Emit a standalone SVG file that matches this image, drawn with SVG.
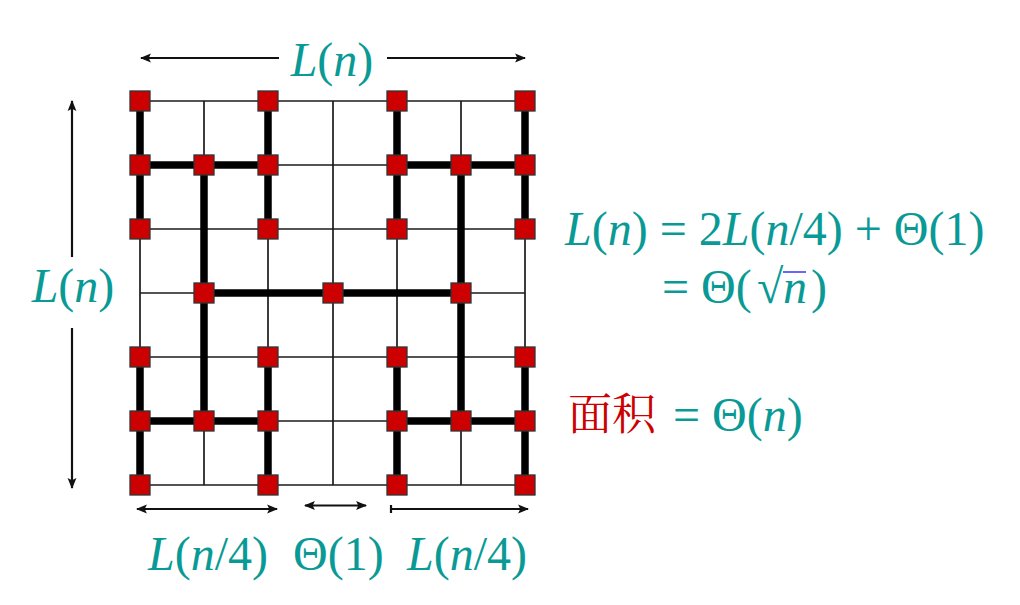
<svg xmlns="http://www.w3.org/2000/svg" width="1020" height="605" viewBox="0 0 1020 605">
<style>
.grid line{stroke:#1a1a1a;stroke-width:1.7}
.thick line{stroke:#000;stroke-width:7.5;stroke-linecap:butt}
.nd rect{fill:#cc0000;stroke:#333;stroke-width:1.3}
.t{font-family:'Liberation Serif',serif;font-size:48px;fill:#0a9a96}
.i{font-style:italic}
.cjk{font-family:'Liberation Serif','Noto Serif CJK SC','Noto Sans CJK SC',serif;font-size:44px;fill:#cc0000}
.arr{stroke:#111;stroke-width:2.2;fill:none}
</style>
<defs>
<marker id="ah" viewBox="0 0 10 10" refX="9" refY="5" markerWidth="5" markerHeight="5" orient="auto-start-reverse" markerUnits="strokeWidth">
<path d="M0,1 L10,5 L0,9 L2,5 Z" fill="#111"/>
</marker>
</defs>
<rect width="1020" height="605" fill="#fff"/>
<g class="grid">
<line x1="140" y1="101" x2="525" y2="101"/>
<line x1="140" y1="165" x2="525" y2="165"/>
<line x1="140" y1="229" x2="525" y2="229"/>
<line x1="140" y1="293" x2="525" y2="293"/>
<line x1="140" y1="357" x2="525" y2="357"/>
<line x1="140" y1="421" x2="525" y2="421"/>
<line x1="140" y1="485" x2="525" y2="485"/>
<line x1="140" y1="101" x2="140" y2="485"/>
<line x1="204" y1="101" x2="204" y2="485"/>
<line x1="268" y1="101" x2="268" y2="485"/>
<line x1="333" y1="101" x2="333" y2="485"/>
<line x1="397" y1="101" x2="397" y2="485"/>
<line x1="461" y1="101" x2="461" y2="485"/>
<line x1="525" y1="101" x2="525" y2="485"/>
</g>
<g id="connectors" class="thick">
<line x1="140" y1="101" x2="140" y2="229"/>
<line x1="268" y1="101" x2="268" y2="229"/>
<line x1="140" y1="165" x2="268" y2="165"/>
<line x1="204" y1="165" x2="204" y2="421"/>
<line x1="140" y1="357" x2="140" y2="485"/>
<line x1="268" y1="357" x2="268" y2="485"/>
<line x1="140" y1="421" x2="268" y2="421"/>
<line x1="397" y1="101" x2="397" y2="229"/>
<line x1="525" y1="101" x2="525" y2="229"/>
<line x1="397" y1="165" x2="525" y2="165"/>
<line x1="461" y1="165" x2="461" y2="421"/>
<line x1="397" y1="357" x2="397" y2="485"/>
<line x1="525" y1="357" x2="525" y2="485"/>
<line x1="397" y1="421" x2="525" y2="421"/>
<line x1="204" y1="293" x2="461" y2="293"/>
</g>
<g class="nd">
<g id="n-a1"><rect x="130" y="91" width="20" height="20"/></g>
<g id="n-a2"><rect x="258" y="91" width="20" height="20"/></g>
<g id="n-a3"><rect x="130" y="155" width="20" height="20"/></g>
<g id="n-a4"><rect x="194" y="155" width="20" height="20"/></g>
<g id="n-a5"><rect x="258" y="155" width="20" height="20"/></g>
<g id="n-a6"><rect x="130" y="219" width="20" height="20"/></g>
<g id="n-a7"><rect x="258" y="219" width="20" height="20"/></g>
<g id="n-b1"><rect x="387" y="91" width="20" height="20"/></g>
<g id="n-b2"><rect x="515" y="91" width="20" height="20"/></g>
<g id="n-b3"><rect x="387" y="155" width="20" height="20"/></g>
<g id="n-b4"><rect x="451" y="155" width="20" height="20"/></g>
<g id="n-b5"><rect x="515" y="155" width="20" height="20"/></g>
<g id="n-b6"><rect x="387" y="219" width="20" height="20"/></g>
<g id="n-b7"><rect x="515" y="219" width="20" height="20"/></g>
<g id="n-m1"><rect x="194" y="283" width="20" height="20"/></g>
<g id="n-m2"><rect x="323" y="283" width="20" height="20"/></g>
<g id="n-m3"><rect x="451" y="283" width="20" height="20"/></g>
<g id="n-c1"><rect x="130" y="347" width="20" height="20"/></g>
<g id="n-c2"><rect x="258" y="347" width="20" height="20"/></g>
<g id="n-c3"><rect x="130" y="411" width="20" height="20"/></g>
<g id="n-c4"><rect x="194" y="411" width="20" height="20"/></g>
<g id="n-c5"><rect x="258" y="411" width="20" height="20"/></g>
<g id="n-c6"><rect x="130" y="475" width="20" height="20"/></g>
<g id="n-c7"><rect x="258" y="475" width="20" height="20"/></g>
<g id="n-d1"><rect x="387" y="347" width="20" height="20"/></g>
<g id="n-d2"><rect x="515" y="347" width="20" height="20"/></g>
<g id="n-d3"><rect x="387" y="411" width="20" height="20"/></g>
<g id="n-d4"><rect x="451" y="411" width="20" height="20"/></g>
<g id="n-d5"><rect x="515" y="411" width="20" height="20"/></g>
<g id="n-d6"><rect x="387" y="475" width="20" height="20"/></g>
<g id="n-d7"><rect x="515" y="475" width="20" height="20"/></g>
</g>
<g id="dimensions">
<line class="arr" x1="279" y1="58" x2="141" y2="58" marker-end="url(#ah)"/>
<line class="arr" x1="387" y1="58" x2="525" y2="58" marker-end="url(#ah)"/>
<line class="arr" x1="72" y1="257" x2="72" y2="101" marker-end="url(#ah)"/>
<line class="arr" x1="72" y1="328" x2="72" y2="488" marker-end="url(#ah)"/>
<line class="arr" x1="137" y1="509" x2="277" y2="509" marker-start="url(#ah)" marker-end="url(#ah)"/>
<line class="arr" x1="305" y1="505.5" x2="366" y2="505.5" marker-start="url(#ah)" marker-end="url(#ah)"/>
<line class="arr" x1="390" y1="509" x2="528" y2="509" marker-end="url(#ah)"/>
<line class="arr" x1="391" y1="505" x2="391" y2="513"/>
</g>
<g id="labels">
<text class="t" x="332" y="76" text-anchor="middle"><tspan class="i">L</tspan>(<tspan class="i">n</tspan>)</text>
<text class="t" x="73" y="302" text-anchor="middle"><tspan class="i">L</tspan>(<tspan class="i">n</tspan>)</text>
<text class="t" x="148" y="570"><tspan class="i">L</tspan>(<tspan class="i">n</tspan>/4)</text>
<text class="t" x="293" y="570">Θ(1)</text>
<text class="t" x="407" y="570"><tspan class="i">L</tspan>(<tspan class="i">n</tspan>/4)</text>
<text class="t" x="565" y="245"><tspan class="i">L</tspan>(<tspan class="i">n</tspan>) = 2<tspan class="i">L</tspan>(<tspan class="i">n</tspan>/4) + Θ(1)</text>
<text class="t" x="662" y="303">= Θ(</text>
<text class="t" x="757" y="303">√</text>
<text class="t i" x="783" y="303">n</text>
<text class="t" x="811" y="303">)</text>
<line x1="783" y1="272" x2="806" y2="272" stroke="#3333ff" stroke-width="1.5"/>
<text class="cjk" x="568" y="430">面积</text>
<text class="t" x="673" y="431">= Θ(<tspan class="i">n</tspan>)</text>
</g>
</svg>
